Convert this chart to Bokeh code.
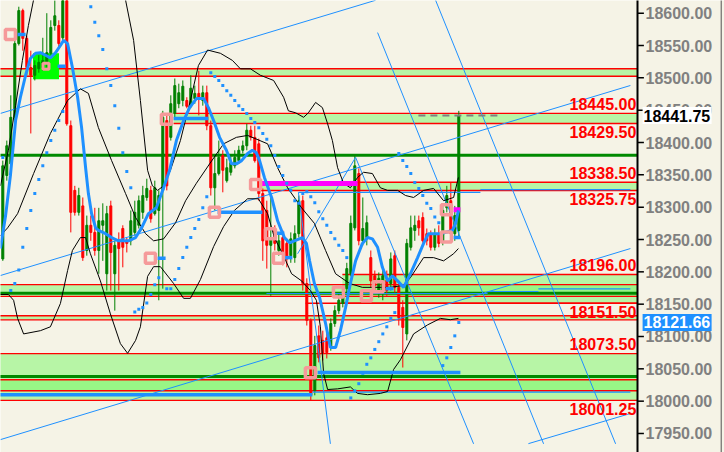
from bokeh.plotting import figure
from bokeh.models import ColumnDataSource, Range1d
from bokeh.core.properties import value
from bokeh.embed import file_html
from bokeh.resources import INLINE

# ---------------- data ----------------
opens = [18220, 18349, 18367, 18439, 18553, 18604, 18561, 18516, 18504, 18514,
         18516, 18524, 18538, 18581, 18581, 18562, 18627, 18426, 18326, 18292,
         18302, 18233, 18272, 18261, 18233, 18272, 18197, 18302, 18197, 18248,
         18267, 18248, 18248, 18261, 18272, 18292, 18315, 18326, 18290, 18295,
         18326, 18434, 18408, 18445, 18460, 18465, 18465, 18456, 18468, 18476,
         18465, 18477, 18426, 18330, 18352, 18380, 18341, 18354, 18364, 18372,
         18388, 18395, 18419, 18408, 18398, 18321, 18295, 18241, 18264, 18233,
         18253, 18244, 18225, 18222, 18259, 18310, 18182, 18125, 18016, 18101,
         18094, 18098, 18083, 18120, 18140, 18151, 18174, 18197, 18268, 18352,
         18248, 18253, 18222, 18194, 18168, 18171, 18187, 18182, 18225, 18176,
         18145, 18104, 18238, 18264, 18279, 18284, 18259, 18259, 18238, 18259,
         18248, 18299, 18310, 18259, 18264]
highs = [18372, 18403, 18473, 18573, 18610, 18607, 18565, 18542, 18527, 18535,
         18562, 18600, 18589, 18620, 18589, 18635, 18635, 18434, 18333, 18330,
         18315, 18287, 18287, 18299, 18299, 18306, 18302, 18310, 18248, 18261,
         18272, 18253, 18295, 18310, 18318, 18333, 18344, 18333, 18341, 18326,
         18449, 18442, 18473, 18499, 18491, 18496, 18470, 18504, 18488, 18511,
         18488, 18488, 18434, 18380, 18403, 18388, 18375, 18380, 18388, 18395,
         18403, 18429, 18426, 18426, 18406, 18329, 18310, 18315, 18272, 18261,
         18264, 18251, 18261, 18272, 18318, 18318, 18190, 18128, 18101, 18117,
         18109, 18112, 18128, 18148, 18168, 18179, 18214, 18287, 18380, 18360,
         18315, 18287, 18233, 18202, 18199, 18205, 18202, 18230, 18233, 18182,
         18156, 18251, 18287, 18287, 18287, 18292, 18267, 18264, 18267, 18272,
         18302, 18333, 18338, 18302, 18449]
lows = [18217, 18341, 18349, 18434, 18550, 18542, 18504, 18414, 18496, 18508,
        18511, 18516, 18535, 18573, 18545, 18558, 18426, 18261, 18287, 18287,
        18217, 18225, 18248, 18225, 18197, 18217, 18171, 18171, 18140, 18171,
        18207, 18230, 18241, 18256, 18267, 18282, 18310, 18276, 18287, 18156,
        18174, 18326, 18403, 18437, 18453, 18456, 18453, 18453, 18460, 18442,
        18457, 18419, 18318, 18295, 18349, 18323, 18338, 18349, 18360, 18367,
        18383, 18388, 18403, 18369, 18310, 18217, 18205, 18163, 18233, 18225,
        18210, 18207, 18214, 18214, 18253, 18171, 18117, 18001, 18009, 18060,
        18063, 18066, 18078, 18115, 18135, 18145, 18168, 18193, 18264, 18241,
        18241, 18241, 18176, 18171, 18160, 18156, 18163, 18171, 18168, 18117,
        18052, 18094, 18233, 18248, 18256, 18245, 18241, 18233, 18233, 18238,
        18241, 18292, 18255, 18248, 18253]
closes = [18364, 18395, 18439, 18553, 18604, 18561, 18516, 18504, 18519, 18524,
          18527, 18539, 18578, 18596, 18553, 18627, 18429, 18292, 18292, 18318,
          18222, 18272, 18261, 18233, 18279, 18279, 18290, 18230, 18241, 18236,
          18238, 18244, 18279, 18292, 18310, 18318, 18329, 18282, 18330, 18318,
          18439, 18333, 18460, 18488, 18477, 18487, 18456, 18484, 18476, 18470,
          18477, 18426, 18330, 18352, 18377, 18357, 18361, 18369, 18377, 18388,
          18395, 18419, 18408, 18372, 18321, 18248, 18241, 18253, 18244, 18248,
          18228, 18220, 18251, 18259, 18310, 18182, 18125, 18009, 18086, 18067,
          18074, 18075, 18120, 18140, 18156, 18166, 18205, 18275, 18364, 18248,
          18267, 18276, 18186, 18179, 18190, 18194, 18171, 18220, 18176, 18129,
          18114, 18244, 18268, 18272, 18268, 18248, 18248, 18238, 18259, 18244,
          18295, 18318, 18259, 18287, 18441.75]

# thick blue moving average
ma_idx = [-0.6, 0.7, 1.9, 3.2, 4.4, 5.7, 6.9, 8.2, 9.4, 10.7, 11.9, 13.2, 14.4, 15.2, 16.2,
          17.4, 18.7, 19.7, 20.7, 21.4, 22.2, 23.2, 23.9, 25.7, 27.2, 28.9, 31.4, 33.2, 34.7,
          36.4, 38.4, 40.2, 41.7, 43.4, 45.2, 46.7, 48.4, 50.2, 51.4, 52.7, 54.2, 55.9, 57.2,
          58.4, 59.7, 61.2, 62.4, 63.4, 64.2, 65.4, 67.2, 68.7, 70.4, 71.7, 72.9, 74.9, 75.9,
          76.7, 77.9, 79.2, 80.7, 81.9, 83.2, 84.4, 85.7, 86.9, 88.2, 89.9, 91.2, 92.4, 93.7,
          94.9, 96.2, 97.4, 98.7, 100.2, 101.9, 103.7, 105.2, 106.4, 109.4, 112.4, 113.2, 113.9]
ma_val = [18236, 18287, 18349, 18434, 18470, 18504, 18530, 18538, 18539, 18535, 18531, 18539,
          18550, 18558, 18553, 18516, 18470, 18423, 18361, 18321, 18290, 18268, 18264, 18259,
          18253, 18248, 18248, 18253, 18268, 18290, 18299, 18330, 18357, 18403, 18434, 18454,
          18468, 18468, 18454, 18434, 18408, 18388, 18367, 18367, 18372, 18383, 18388, 18384,
          18372, 18346, 18315, 18279, 18253, 18245, 18248, 18253, 18244, 18217, 18182, 18160,
          18120, 18083, 18083, 18109, 18145, 18182, 18217, 18244, 18253, 18251, 18238, 18207,
          18186, 18194, 18186, 18176, 18197, 18222, 18244, 18259, 18259, 18264, 18275, 18295]

# black bands
ub_idx = [-0.6, 1.4, 3.2, 4.9, 6.4, 7.9, 9.4, 28.2, 29.9, 30.7, 32.7, 34.4, 36.2, 37.4, 38.7,
          40.2, 41.9, 44.4, 46.9, 48.9, 51.2, 54.4, 57.4, 59.4, 61.9, 64.4, 67.7, 70.2, 71.4,
          73.2, 75.2, 76.4, 78.2, 79.9, 81.2, 82.4, 83.7, 85.2, 86.9, 88.7, 90.2, 92.4, 94.4,
          96.2, 98.7, 100.7, 102.7, 105.2, 107.7, 110.2, 112.7, 113.9]
ub_val = [18333, 18388, 18457, 18527, 18581, 18627, 18666, 18666, 18627, 18620, 18558, 18465,
          18357, 18333, 18326, 18333, 18357, 18403, 18465, 18519, 18543, 18538, 18527, 18514,
          18514, 18504, 18496, 18470, 18449, 18446, 18439, 18446, 18462, 18454, 18429, 18403,
          18361, 18337, 18330, 18346, 18354, 18352, 18330, 18326, 18326, 18318, 18315, 18326,
          18329, 18310, 18315, 18346]
mb_idx = [-0.6, 1.2, 3.7, 7.7, 11.9, 16.2, 19.4, 21.4, 23.9, 27.2, 30.7, 33.2, 35.7, 37.7,
          40.2, 43.2, 45.7, 48.4, 51.7, 55.2, 58.4, 61.2, 66.2, 68.7, 71.2, 74.7, 77.9, 80.7,
          83.2, 86.7, 89.9, 93.2, 96.9, 100.2, 101.9, 105.2, 107.7, 110.2, 112.7, 113.9]
mb_val = [18256, 18268, 18290, 18352, 18414, 18465, 18483, 18476, 18423, 18372, 18321, 18284,
          18259, 18248, 18251, 18276, 18310, 18337, 18367, 18398, 18408, 18411, 18398, 18361,
          18330, 18299, 18275, 18233, 18197, 18182, 18176, 18176, 18176, 18179, 18191, 18222,
          18222, 18217, 18228, 18236]
lb_idx = [-0.6, 1.4, 2.7, 3.7, 5.2, 9.4, 11.9, 14.4, 16.2, 17.4, 19.4, 20.7, 21.9, 24.4, 26.9,
          29.4, 31.2, 33.2, 34.4, 36.2, 37.7, 39.4, 42.7, 45.2, 46.9, 49.4, 52.7, 55.2, 57.9,
          61.2, 63.9, 66.2, 67.9, 70.4, 72.2, 74.7, 76.9, 78.4, 79.4, 80.2, 81.2, 83.7, 86.9,
          88.7, 91.2, 94.4, 96.2, 97.7, 99.4, 102.7, 106.2, 109.4, 111.9, 113.9]
lb_val = [18165, 18165, 18156, 18128, 18104, 18109, 18115, 18151, 18202, 18233, 18253, 18253,
          18228, 18186, 18135, 18089, 18074, 18094, 18115, 18193, 18208, 18208, 18182, 18159,
          18159, 18188, 18239, 18270, 18295, 18313, 18313, 18290, 18253, 18222, 18197, 18186,
          18171, 18156, 18115, 18043, 18018, 18019, 18022, 18012, 18010, 18012, 18015, 18049,
          18064, 18104, 18118, 18128, 18126, 18128]

# parabolic SAR dots
sar_idx = [0, 2, 3, 4, 5, 6, 7, 8, 9, 10, 11, 12, 13, 14, 15,
           22, 23, 24, 25, 26, 27, 28, 29, 30, 31, 32,
           33, 34, 35, 36, 37, 38, 39,
           41, 42, 43, 44, 45, 46, 47, 48, 49, 50, 51,
           52, 53, 54, 55, 56, 57, 58, 59, 60, 61, 62, 63, 64, 65, 66, 67, 68, 69, 70, 71,
           72, 73, 74, 75, 76, 77, 78, 79, 80, 81, 82, 83, 84, 85, 86,
           87, 88, 89, 90, 91, 92, 93, 94, 95, 96, 97, 98,
           99, 100, 101, 102, 103, 104, 105, 106, 107, 108, 109,
           110, 111, 112, 113, 114]
sar_val = [18377, 18171, 18182, 18203, 18238, 18267, 18295, 18321, 18343, 18364, 18384, 18403,
           18419, 18434, 18448,
           18610, 18586, 18565, 18544, 18514, 18488, 18457, 18422, 18384, 18355, 18330,
           18138, 18142, 18145, 18152, 18165, 18180, 18191,
           18174, 18174, 18188, 18205, 18222, 18238, 18253, 18267, 18281, 18299, 18316,
           18508, 18502, 18496, 18488, 18480, 18473, 18465, 18457, 18451, 18445, 18437, 18431,
           18423, 18414, 18405, 18395, 18380, 18363, 18349, 18337, 18326, 18310, 18306, 18321,
           18324, 18316, 18307, 18293, 18282, 18272, 18261, 18251, 18241, 18233, 18222,
           18005, 18016, 18027, 18043, 18057, 18067, 18080, 18092, 18104, 18115, 18128, 18137,
           18383, 18372, 18363, 18352, 18338, 18329, 18318, 18306, 18298, 18285, 18276,
           18055, 18067, 18083, 18101, 18121.66]

# support / resistance zones
zone_top = [18514.0, 18445.0, 18338.5, 18196.0, 18180.25, 18132.0, 18073.5, 18033.0]
zone_bottom = [18502.5, 18429.5, 18325.75, 18151.5, 18162.0, 18125.75, 18016.0, 18001.25]
zone_from = [-2.0, 42.7, 64.4, 84.9, -2.0, -2.0, -2.0, -2.0]
green_levels = [18380.5, 18167.0, 18038.0]

labels_above = [18445.00, 18338.50, 18196.00, 18073.50]
labels_below = [18429.50, 18325.75, 18151.50, 18001.25]

# pivot segments (thick blue / magenta)
piv_price = [18567, 18518, 18437, 18292, 18221, 18259.5, 18222, 18174, 18253, 18010, 18044.3]
piv_from = [3.7, 13.7, 42.7, 53.7, 38.7, 68.4, 70.4, 95.7, 112.7, -2.0, 78.7]
piv_to = [5.7, 15.7, 51.4, 64.9, 40.7, 70.4, 72.4, 97.7, 114.4, 77.4, 114.4]
mag_price = [18336.5, 18296.0]
mag_from = [64.4, 112.7]
mag_to = [88.7, 114.4]

# pivot markers
pk_idx = [1.9, 40.9, 52.9, 36.9, 63.2, 66.9, 68.9, 76.9, 110.9, 110.9, 83.9, 90.9, 93.9]
pk_val = [18567, 18436, 18292, 18221, 18335, 18259, 18221, 18044, 18296, 18254, 18169, 18163, 18177]
hl_idx = [10.8]
hl_val = [18518]

# thin trend lines
tl_x0 = [-0.6, -0.6, -0.6, 131.4, 93.7, 108.2, 73.9, 73.7, 88.2]
tl_y0 = [18445, 18194.3, 17940.5, 17934.3, 18570, 18620, 18323, 18228, 18377]
tl_x1 = [93.2, 156.9, 156.9, 156.9, 135.2, 153.2, 81.9, 88.2, 117.7]
tl_y1 = [18620, 18488.2, 18236, 17980.9, 17934, 17934, 17934, 18377, 17934]
fl_price = [18323, 18327, 18166.5, 18169.6, 18173.5, 18014]
fl_from = [73.9, 119.4, 65.9, 121.2, 133.9, 77.4]
fl_to = [119.4, 156.9, 121.2, 133.9, 156.9, 156.9]

last_price = 18441.75
sar_last = 18121.66
y_ticks = [17950, 18000, 18050, 18100, 18150, 18200, 18250, 18300, 18350, 18400,
           18450, 18500, 18550, 18600]

# ---------------- figure ----------------
BG = "#F5F3E6"
BLUE = "#1E90FF"
FONT = "Liberation Sans"
AX = 158.675          # bar-index position of the price-scale edge
N = len(opens)

p = figure(width=724, height=452,
           x_range=Range1d(-0.575, 180.425), y_range=Range1d(17920.6, 18619.64),
           output_backend="svg", toolbar_location=None, tools="",
           x_axis_location=None, y_axis_location=None,
           min_border=0)
p.background_fill_color = BG
p.border_fill_color = BG
p.outline_line_color = None
p.grid.visible = False

# zones
p.quad(left=zone_from, right=[AX] * len(zone_top), bottom=zone_bottom, top=zone_top,
       fill_color="#7AF866", fill_alpha=0.5, line_color=None)
rx0 = zone_from + zone_from + [75.7]
ry = zone_top + zone_bottom + [18151.5]
p.segment(x0=rx0, y0=ry, x1=[AX] * len(rx0), y1=ry, line_color="#FF0000", line_width=1.4)
p.segment(x0=[-2.0] * 3, y0=green_levels, x1=[AX] * 3, y1=green_levels,
          line_color="#008A00", line_width=3)

# highlight square
p.scatter(hl_idx, hl_val, marker="square", size=26, fill_color="#00FF00", line_color=None)

# candles
colors = ["#008000" if c >= o else "#FF0000" for o, c in zip(opens, closes)]
src = ColumnDataSource(dict(
    x=list(range(N)), h=highs, l=lows,
    top=[max(o, c) for o, c in zip(opens, closes)],
    bot=[min(o, c) for o, c in zip(opens, closes)],
    color=colors))
p.segment(x0="x", y0="h", x1="x", y1="l", line_color="color", line_width=1, source=src)
p.vbar(x="x", width=0.5, top="top", bottom="bot", fill_color="color",
       line_color="color", line_width=1, source=src)

# thin trend lines
p.segment(x0=tl_x0, y0=tl_y0, x1=tl_x1, y1=tl_y1, line_color=BLUE, line_width=1)
p.segment(x0=fl_from, y0=fl_price, x1=fl_to, y1=fl_price, line_color=BLUE, line_width=1.2)

# bands
p.line(ub_idx, ub_val, line_color="black", line_width=1)
p.line(mb_idx, mb_val, line_color="black", line_width=1)
p.line(lb_idx, lb_val, line_color="black", line_width=1)

# pivot segments
p.segment(x0=piv_from, y0=piv_price, x1=piv_to, y1=piv_price, line_color=BLUE, line_width=3.5)
p.segment(x0=mag_from, y0=mag_price, x1=mag_to, y1=mag_price, line_color="#FF00FF", line_width=5)

# moving average
p.line(ma_idx, ma_val, line_color=BLUE, line_width=3)

# SAR
p.scatter(sar_idx, sar_val, marker="square", size=3, fill_color=BLUE, line_color=None)

# pivot markers
p.scatter(pk_idx, pk_val, marker="square", size=10, fill_color=None,
          line_color="#F59A9A", line_width=3.5)
p.scatter(hl_idx, hl_val, marker="square", size=6, fill_color=None,
          line_color="#F59A9A", line_width=3)

# dashed last-price marker
p.segment(x0=[103.9], y0=[last_price], x1=[124.4], y1=[last_price],
          line_color="#808080", line_width=2, line_dash="7 5")

# level labels
p.text(x=[AX - 0.3] * 4, y=labels_above, text=["%.2f" % v for v in labels_above],
       text_align="right", text_baseline="bottom", text_color="#FF0000", y_offset=-3.5,
       text_font=value(FONT), text_font_style="bold", text_font_size="16px")
p.text(x=[AX - 0.3] * 4, y=labels_below, text=["%.2f" % v for v in labels_below],
       text_align="right", text_baseline="top", text_color="#FF0000", y_offset=2.5,
       text_font=value(FONT), text_font_style="bold", text_font_size="16px")

# price scale (right)
p.segment(x0=[AX], y0=[17900], x1=[AX], y1=[18650], line_color="black", line_width=2)
p.segment(x0=[179.6], y0=[17900], x1=[179.6], y1=[18650], line_color="#505050", line_width=1)
p.segment(x0=[AX] * len(y_ticks), y0=y_ticks, x1=[AX + 1.6] * len(y_ticks), y1=y_ticks,
          line_color="black", line_width=1.5)
p.text(x=[AX + 2.0] * len(y_ticks), y=y_ticks, text=["%.2f" % v for v in y_ticks],
       text_align="left", text_baseline="middle", text_color="#808080",
       text_font=value(FONT), text_font_style="bold", text_font_size="16px")

# price boxes
p.rect(x=[AX + 9.9, AX + 9.9], y=[last_price, sar_last], width=69, height=17,
       width_units="screen", height_units="screen",
       fill_color=["white", BLUE], line_color=None)
p.text(x=[AX + 1.5, AX + 1.5], y=[last_price, sar_last],
       text=["%.2f" % last_price, "%.2f" % sar_last],
       text_align="left", text_baseline="middle", text_color=["black", "white"],
       text_font=value(FONT), text_font_style="bold", text_font_size="16px")

open("out.html", "w").write(file_html(p, INLINE))
